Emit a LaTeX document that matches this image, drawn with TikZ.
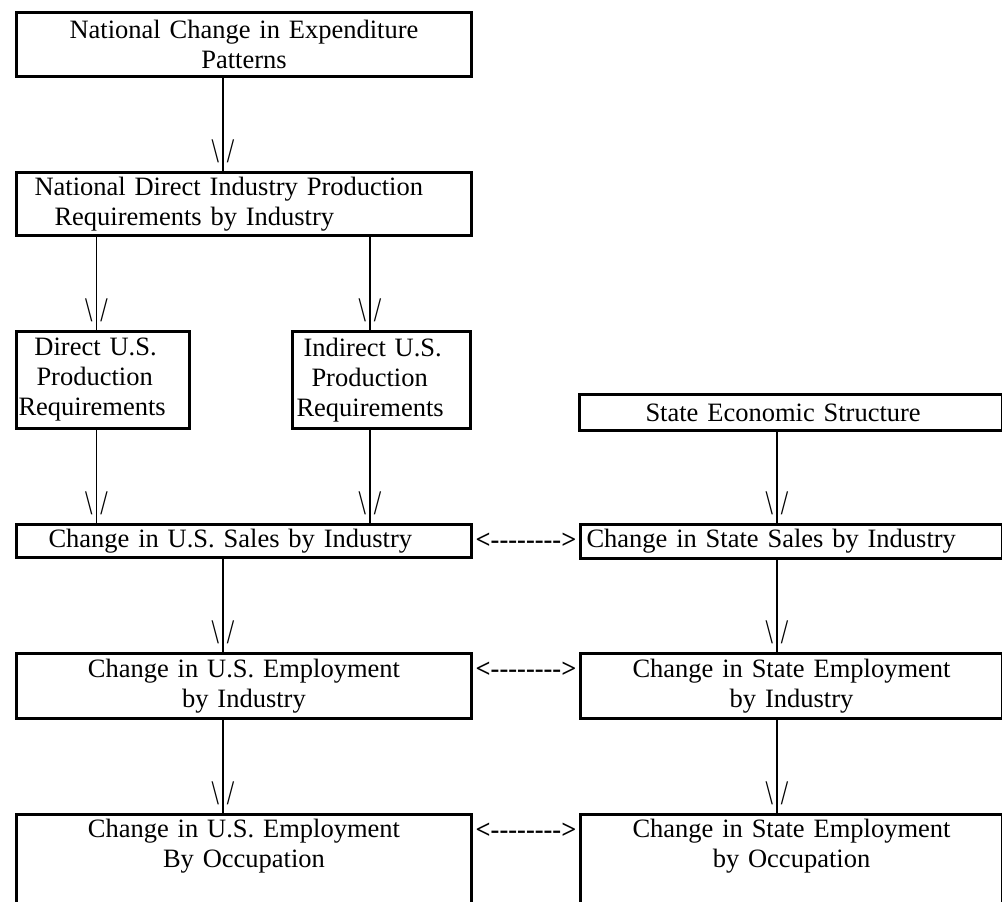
\documentclass[tikz,border=0pt]{standalone}
\usepackage{fontspec}
\setmainfont{Liberation Serif}
\usetikzlibrary{calc}
\newcommand{\boxfont}{\fontsize{26.5}{30}\selectfont}
\newcommand{\hy}{-\kern0pt}
\newcommand{\headglyphs}{\scalebox{1}[1.3]{\textbackslash\kern8pt/}}
\tikzset{
  box/.style={draw=black, line width=3pt, anchor=north west, inner ysep=0pt, font=\boxfont},
  link/.style={draw=black, line width=1.3pt},
  headmark/.style={pos=1, anchor=base, yshift=9pt, inner sep=0pt, font=\boxfont},
  pairarrow/.style={font=\boxfont\bfseries, inner sep=0pt, yshift=-18pt},
}
\begin{document}
\begin{tikzpicture}[x=1pt,y=-1pt]
  \fill[white] (0,0) rectangle (1002,902);
  \useasboundingbox (0,0) rectangle (1002,902);
  % columns of the connectors
  \coordinate (colA) at (223,0);
  \coordinate (colB) at (96.5,0);
  \coordinate (colC) at (370,0);
  \coordinate (colD) at (777,0);

  % national side
  \node[box, align=center, text width=447pt, inner xsep=4pt, minimum height=64pt] (nat) at (15,11)
    {National Change in Expenditure\\Patterns};
  \node[box, align=left, text width=419pt, inner xsep=18pt, minimum height=63pt] (natdir) at (15,171)
    {National Direct Industry Production\\\hspace*{20pt}Requirements by Industry};
  \node[box, align=left, text width=169pt, inner xsep=2pt, minimum height=97pt] (dirus) at (15,330)
    {\hspace*{16pt}Direct U.S.\\\hspace*{18pt}Production\\Requirements};
  \node[box, align=left, text width=170pt, inner xsep=4pt, minimum height=97pt] (indus) at (291,330)
    {\hspace*{7pt}Indirect U.S.\\\hspace*{15pt}Production\\Requirements};
  \node[box, align=left, text width=391pt, inner xsep=32pt, minimum height=33pt] (ussales) at (15,523)
    {Change in U.S. Sales by Industry};
  \node[box, align=center, text width=447pt, inner xsep=4pt, minimum height=65pt] (usemp) at (15,652)
    {Change in U.S. Employment\\by Industry};
  \node[box, align=center, text width=447pt, inner xsep=4pt, minimum height=97pt] (usocc) at (15,813)
    {Change in U.S. Employment\\By Occupation\\\strut};

  % state side
  \node[box, align=left, text width=291pt, inner xsep=66pt, minimum height=36pt] (stecon) at (578,393)
    {State Economic Structure};
  \node[box, align=left, text width=410pt, inner xsep=6pt, minimum height=34pt] (stsales) at (579,523)
    {Change in State Sales by Industry};
  \node[box, align=center, text width=414pt, inner xsep=4pt, minimum height=65pt] (stemp) at (579,652)
    {Change in State Employment\\by Industry};
  \node[box, align=center, text width=414pt, inner xsep=4pt, minimum height=97pt] (stocc) at (579,813)
    {Change in State Employment\\by Occupation\\\strut};

  % downward connectors
  \draw[link] (nat.south -| colA) -- node[headmark] (headA) {\headglyphs} (natdir.north -| colA);
  \draw[link] (natdir.south -| colB) -- node[headmark] (headB) {\headglyphs} (dirus.north -| colB);
  \draw[link] (natdir.south -| colC) -- node[headmark] (headC) {\headglyphs} (indus.north -| colC);
  \draw[link] (dirus.south -| colB) -- node[headmark] (headD) {\headglyphs} (ussales.north -| colB);
  \draw[link] (indus.south -| colC) -- node[headmark] (headE) {\headglyphs} (ussales.north -| colC);
  \draw[link] (stecon.south -| colD) -- node[headmark] (headF) {\headglyphs} (stsales.north -| colD);
  \draw[link] (ussales.south -| colA) -- node[headmark] (headG) {\headglyphs} (usemp.north -| colA);
  \draw[link] (usemp.south -| colA) -- node[headmark] (headH) {\headglyphs} (usocc.north -| colA);
  \draw[link] (stsales.south -| colD) -- node[headmark] (headI) {\headglyphs} (stemp.north -| colD);
  \draw[link] (stemp.south -| colD) -- node[headmark] (headJ) {\headglyphs} (stocc.north -| colD);

  % two-way links between the sides
  \node[pairarrow] (pairA) at ($(ussales.north east)!0.5!(stsales.north west)$) {<\hy\hy\hy\hy\hy\hy\hy\hy>};
  \node[pairarrow] (pairB) at ($(usemp.north east)!0.5!(stemp.north west)$) {<\hy\hy\hy\hy\hy\hy\hy\hy>};
  \node[pairarrow] (pairC) at ($(usocc.north east)!0.5!(stocc.north west)$) {<\hy\hy\hy\hy\hy\hy\hy\hy>};
\end{tikzpicture}
\end{document}
